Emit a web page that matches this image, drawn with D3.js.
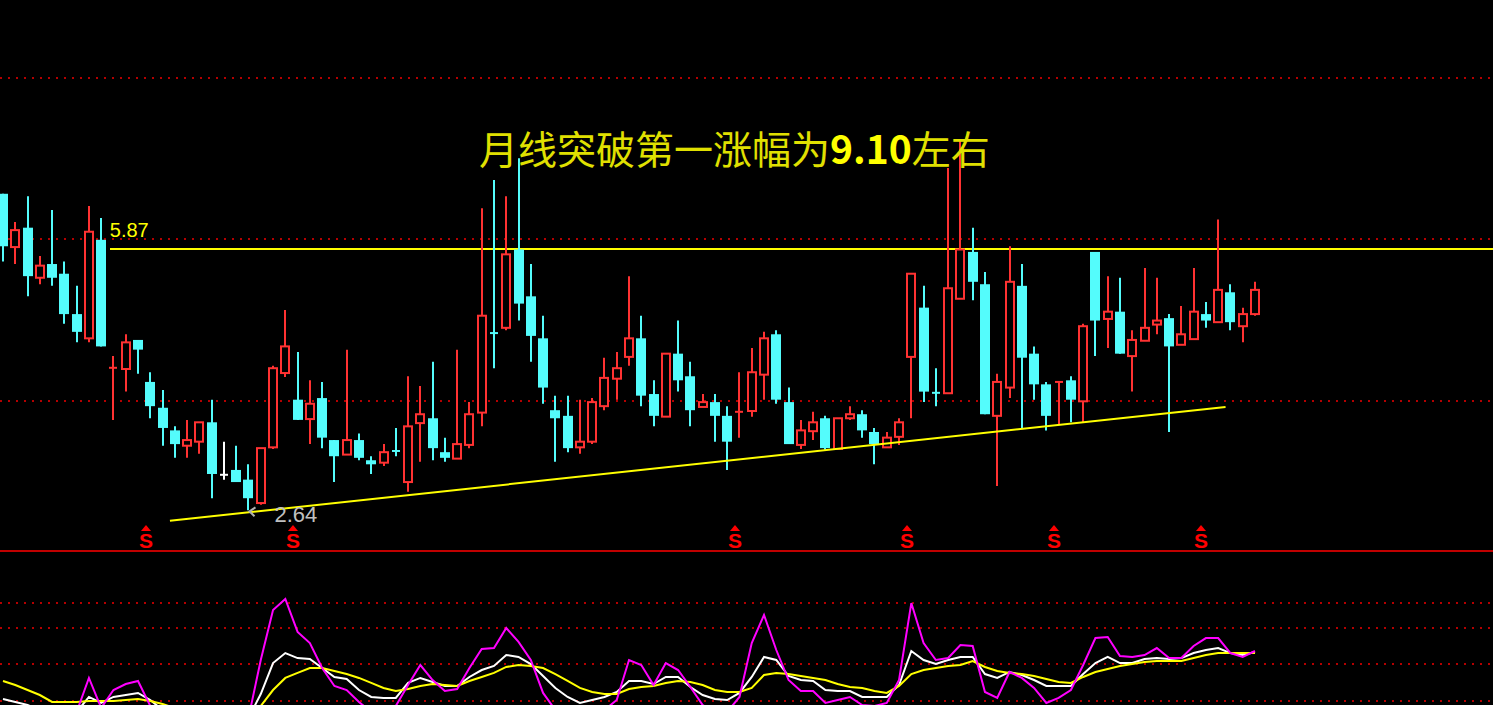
<!DOCTYPE html>
<html>
<head>
<meta charset="utf-8">
<script src="https://cdn.jsdelivr.net/npm/d3@7"></script>
<style>
  html, body { margin: 0; padding: 0; background: #000; overflow: hidden; }
  svg { display: block; }
</style>
</head>
<body>
<div id="chart"></div>
<script>
// monthly candles, oldest first
var opens  = [6.56,5.90,6.14,5.52,5.69,5.57,5.07,4.77,5.99,4.40, 4.39,4.75,4.23,3.91,3.63,3.44,3.49,3.73,3.08,3.14,
              3.02,2.73,3.42,4.34,4.01,3.77,4.03,3.51,3.33,3.51, 3.26,3.23,3.39,2.99,3.72,3.78,3.36,3.28,3.45,3.85,
              4.85,4.90,5.87,5.29,4.77,3.88,3.81,3.42,3.49,3.93, 4.27,4.54,4.77,4.08,3.80,4.58,4.30,3.92,3.98,3.81,
              3.85,3.87,4.32,4.82,3.98,3.45,3.62,3.78,3.40,3.78, 3.83,3.61,3.42,3.55,4.54,5.15,4.11,4.09,5.26,5.84,
              5.44,3.81,4.16,5.42,4.58,4.20,4.22,4.25,3.99,5.84, 5.01,5.10,4.55,4.74,4.94,5.02,4.69,4.76,5.07,4.97,
              5.34,4.92,5.07];
var highs  = [6.56,6.21,6.53,5.79,6.36,5.72,5.42,6.41,6.26,4.55, 4.82,4.75,4.35,4.13,3.68,3.76,3.73,4.01,3.49,3.44,
              3.21,3.41,4.43,5.12,4.60,4.25,4.23,3.51,4.63,3.59, 3.31,3.46,3.66,4.30,4.18,4.48,3.54,4.63,3.98,6.38,
              6.73,6.53,7.00,5.69,5.05,4.06,4.06,4.01,4.03,4.53, 4.60,5.54,5.05,4.25,4.58,4.99,4.48,4.08,4.08,3.93,
              4.35,4.65,4.85,4.87,4.16,3.76,3.86,3.81,3.78,3.93, 3.88,3.66,3.61,3.78,5.57,5.42,4.40,6.88,7.23,6.14,
              5.59,4.33,5.91,5.69,4.67,4.23,4.24,4.30,4.95,5.84, 5.54,5.52,4.87,5.64,5.52,5.07,5.17,5.64,5.22,6.24,
              5.44,5.15,5.47];
var lows   = [5.72,5.69,5.29,5.44,5.42,4.95,4.72,4.72,4.67,3.76, 4.11,4.33,3.78,3.44,3.29,3.29,3.34,2.79,3.02,2.99,
              2.64,2.71,3.40,4.29,3.76,3.46,3.41,2.99,3.33,3.26, 3.09,3.19,3.31,2.87,3.24,3.26,3.24,3.28,3.41,3.68,
              4.40,4.87,4.99,4.48,3.96,3.24,3.36,3.34,3.46,3.88, 4.01,4.43,3.93,3.68,3.80,4.11,3.68,3.92,3.49,3.14,
              3.54,3.80,4.01,3.96,3.46,3.40,3.51,3.39,3.40,3.76, 3.54,3.21,3.42,3.45,3.78,3.98,3.93,4.09,5.26,5.24,
              3.83,2.94,4.03,3.66,4.01,3.63,3.71,3.73,3.73,4.55, 4.65,4.58,4.11,4.74,4.82,3.61,4.69,4.76,4.90,4.97,
              4.87,4.72,5.05];
var closes = [5.91,6.11,5.54,5.67,5.52,5.07,4.85,6.09,4.67,4.41, 4.72,4.63,3.93,3.66,3.46,3.51,3.73,3.09,3.08,2.99,
              2.79,3.41,4.40,4.67,3.76,3.96,3.54,3.31,3.51,3.29, 3.21,3.36,3.36,3.68,3.83,3.41,3.29,3.46,3.83,5.05,
              4.82,5.81,5.20,4.80,4.16,3.78,3.41,3.49,3.98,4.28, 4.40,4.77,4.06,3.81,4.58,4.25,3.88,3.98,3.81,3.49,
              3.87,4.35,4.77,4.01,3.46,3.63,3.73,3.41,3.78,3.83, 3.63,3.46,3.54,3.73,5.57,4.11,4.08,5.39,5.87,5.47,
              3.83,4.23,5.47,4.53,4.20,3.81,4.24,4.01,4.92,4.99, 5.10,4.58,4.75,4.90,4.99,4.67,4.82,5.10,4.99,5.37,
              4.97,5.07,5.37];

// KDJ indicator (lower panel)
var kLine = [21.6,19.2,16.7,12.6,9.3,7.7,11.0,23.3,18.4,23.3, 24.9,26.6,20.8,12.6,7.7,2.8,-0.5,-3.8,-3.8,-2.1,
             6.1,25.7,51.1,59.3,55.2,54.4,47.0,39.7,38.0,29.0, 23.3,22.5,22.5,34.8,38.9,35.6,32.3,32.3,39.7,45.4,
             48.7,57.7,56.1,50.3,40.5,30.7,23.3,18.4,20.8,23.3, 27.4,36.4,36.4,33.9,39.7,39.7,31.5,24.9,21.6,20.8,
             26.6,39.7,56.1,53.6,40.5,37.2,36.4,29.0,28.2,28.2, 23.3,23.3,23.3,33.1,61.0,53.6,50.3,53.6,56.1,56.1,
             42.1,38.9,43.8,41.3,37.2,32.3,32.3,32.3,42.1,51.1, 56.1,51.1,51.1,54.4,55.2,54.4,55.2,59.3,61.8,63.4,
             59.3,57.7,60.2];
var dLine = [36.4,33.1,29.0,24.9,19.2,19.2,19.2,20.0,20.0,20.0, 20.8,21.6,20.0,17.5,14.3,11.0,7.7,4.4,2.8,2.8,
             6.1,15.9,29.0,38.9,43.0,47.0,47.0,44.6,42.1,38.9, 34.8,30.7,28.2,29.8,32.3,33.9,33.1,32.3,36.4,39.7,
             43.0,47.9,49.5,48.7,47.0,42.1,36.4,30.7,27.4,25.7, 25.7,29.8,31.5,32.3,34.8,36.4,35.6,33.1,29.0,27.4,
             27.4,30.7,41.3,43.0,42.1,40.5,38.9,37.2,33.9,31.5, 30.7,28.2,26.6,32.3,42.1,45.4,47.0,48.7,49.5,52.8,
             47.9,44.6,43.0,42.1,40.5,38.0,35.6,34.8,39.7,43.8, 46.2,48.7,50.3,52.0,52.8,52.8,52.8,55.2,57.7,59.3,
             59.3,59.3,59.3];
var jLine = [-3.8,-7.9,-7.9,-12.0,-12.0,-7.9,11.0,38.9,14.3,29.0, 33.9,36.4,15.9,0.3,-7.9,-12.0,-16.1,-18.5,-16.1,-12.0,
             6.1,53.6,94.6,103.6,76.6,67.5,47.0,32.3,29.0,19.2, 11.0,11.0,15.9,33.1,49.5,37.2,28.2,29.8,47.0,62.6,
             63.4,79.8,68.4,53.6,26.6,12.6,0.3,-3.8,4.4,12.6, 20.8,53.6,49.5,33.1,51.1,45.4,31.5,16.7,11.0,11.0,
             23.3,67.5,90.5,61.8,37.2,28.2,28.2,18.4,20.8,23.3, 16.7,15.9,18.4,37.2,100.3,67.5,53.6,55.2,65.9,65.1,
             27.4,22.5,43.8,38.9,30.7,18.4,22.5,29.0,49.5,71.6, 72.5,56.9,56.1,57.7,63.4,55.2,55.2,65.1,71.6,71.6,
             59.3,56.1,61.0];

var signalIdx = [12, 24, 60, 74, 86, 98];
var priceGrid = [4, 6, 8];
var kdjGrid = [20, 50, 80, 100];
var resistance = { price: 5.87, from: 8.7 };
var trendLine = [[13.6, 2.51], [99.6, 3.92]];
var lowMark = { index: 20, label: "2.64" };
var titleParts = ["月线突破第一涨幅为", "9.10", "左右"];

var svgWidth = 1493, svgHeight = 705;
var splitY = 551;

var svg = d3.select("#chart").append("svg")
  .attr("width", svgWidth)
  .attr("height", svgHeight)
  .style("background", "#000");

var defs = svg.append("defs");
defs.append("clipPath").attr("id", "clipTop")
  .append("rect").attr("x", 0).attr("y", 0).attr("width", svgWidth).attr("height", splitY - 1);
defs.append("clipPath").attr("id", "clipBottom")
  .append("rect").attr("x", 0).attr("y", splitY + 2).attr("width", svgWidth).attr("height", svgHeight - splitY - 2);

// scales
var x = d3.scaleLinear().domain([0, opens.length - 1]).range([3, 1255]);
var y = d3.scaleLinear().domain([2, 9]).range([562, -3.25]);
var yk = d3.scaleLinear().domain([20, 100]).range([701, 603.4]);

var gridColor = "#b40000";

// dotted grid lines
svg.append("g").selectAll("line").data(priceGrid).enter().append("line")
  .attr("x1", 0).attr("x2", svgWidth)
  .attr("y1", d => Math.round(y(d))).attr("y2", d => Math.round(y(d)))
  .attr("stroke", gridColor).attr("stroke-width", 2).attr("stroke-dasharray", "2,6");

svg.append("g").selectAll("line").data(kdjGrid).enter().append("line")
  .attr("x1", 0).attr("x2", svgWidth)
  .attr("y1", d => Math.round(yk(d))).attr("y2", d => Math.round(yk(d)))
  .attr("stroke", gridColor).attr("stroke-width", 2).attr("stroke-dasharray", "2,6");

// panel separator
svg.append("line")
  .attr("x1", 0).attr("x2", svgWidth).attr("y1", splitY).attr("y2", splitY)
  .attr("stroke", "#c00000").attr("stroke-width", 2);

// resistance line and its label
svg.append("line")
  .attr("x1", x(resistance.from)).attr("x2", svgWidth)
  .attr("y1", y(resistance.price)).attr("y2", y(resistance.price))
  .attr("stroke", "#ffff00").attr("stroke-width", 2).attr("shape-rendering", "crispEdges");
svg.append("text")
  .attr("x", x(resistance.from)).attr("y", y(resistance.price) - 12)
  .attr("fill", "#ffff00")
  .style("font-family", "'Liberation Sans', Arial, sans-serif")
  .style("font-size", "20px")
  .text(resistance.price.toFixed(2));

// candles
var candles = opens.map((o, i) => ({ i: i, o: o, h: highs[i], l: lows[i], c: closes[i] }));
function colorOf(d) {
  if (d.c > d.o) return "#ff3232";
  if (d.c < d.o) return "#54fcfc";
  return "#ffffff";
}

var pricePanel = svg.append("g").attr("clip-path", "url(#clipTop)");
var cg = pricePanel.selectAll("g.candle").data(candles).enter().append("g").attr("class", "candle");

cg.append("line")
  .attr("x1", d => Math.round(x(d.i))).attr("x2", d => Math.round(x(d.i)))
  .attr("y1", d => y(d.h)).attr("y2", d => y(d.l))
  .attr("stroke", colorOf).attr("stroke-width", 2);

cg.each(function(d) {
  var g = d3.select(this);
  var cx = Math.round(x(d.i));
  var yo = y(d.o), yc = y(d.c);
  var col = colorOf(d);
  if (Math.abs(yo - yc) < 2.5) {
    g.append("line")
      .attr("x1", cx - 4).attr("x2", cx + 4)
      .attr("y1", (yo + yc) / 2).attr("y2", (yo + yc) / 2)
      .attr("stroke", col).attr("stroke-width", 2);
  } else if (d.c > d.o) {
    g.append("rect")
      .attr("x", cx - 4).attr("width", 8)
      .attr("y", yc).attr("height", yo - yc)
      .attr("fill", "#000").attr("stroke", col).attr("stroke-width", 2);
  } else {
    g.append("rect")
      .attr("x", cx - 5).attr("width", 10)
      .attr("y", yo).attr("height", yc - yo)
      .attr("fill", col);
  }
});

// rising support line
pricePanel.append("line")
  .attr("x1", x(trendLine[0][0])).attr("y1", y(trendLine[0][1]))
  .attr("x2", x(trendLine[1][0])).attr("y2", y(trendLine[1][1]))
  .attr("stroke", "#ffff00").attr("stroke-width", 2);

// lowest point marker
var lx = x(lowMark.index), ly = y(lows[lowMark.index]);
svg.append("path")
  .attr("d", `M${lx + 7},${ly - 3} L${lx + 1},${ly + 1} L${lx + 6},${ly + 6}`)
  .attr("fill", "none").attr("stroke", "#b0b0b0").attr("stroke-width", 2);
svg.append("text")
  .attr("x", lx + 26).attr("y", ly + 12)
  .attr("fill", "#c0c0c0")
  .style("font-family", "'Liberation Sans', Arial, sans-serif")
  .style("font-size", "22px")
  .text(lowMark.label);

// signal markers
var sg = svg.append("g").selectAll("g").data(signalIdx).enter().append("g")
  .attr("transform", d => `translate(${Math.round(x(d) - 4.5)},0)`);
sg.append("path")
  .attr("d", "M-5,531 L0,525 L5,531 Z")
  .attr("fill", "#ff0000");
sg.append("text")
  .attr("x", 0).attr("y", 548)
  .attr("text-anchor", "middle")
  .attr("fill", "#ff0000")
  .style("font-family", "'Liberation Sans', Arial, sans-serif")
  .style("font-weight", "bold")
  .style("font-size", "21px")
  .text("S");

// title annotation
var title = svg.append("text")
  .attr("x", 479).attr("y", 164)
  .style("font-family", "'Noto Sans CJK SC', sans-serif")
  .style("font-size", "39px");
title.append("tspan").attr("fill", "#e0e000").text(titleParts[0]);
title.append("tspan").attr("fill", "#ffff00").style("font-weight", "bold").text(titleParts[1]);
title.append("tspan").attr("fill", "#e0e000").text(titleParts[2]);

// KDJ lines
var kdjPanel = svg.append("g").attr("clip-path", "url(#clipBottom)");
var line = d3.line().x((d, i) => x(i)).y(d => yk(d));
kdjPanel.append("path").datum(kLine).attr("d", line)
  .attr("fill", "none").attr("stroke", "#ffffff").attr("stroke-width", 2);
kdjPanel.append("path").datum(dLine).attr("d", line)
  .attr("fill", "none").attr("stroke", "#ffff00").attr("stroke-width", 2);
kdjPanel.append("path").datum(jLine).attr("d", line)
  .attr("fill", "none").attr("stroke", "#ff00ff").attr("stroke-width", 2);
</script>
</body>
</html>
